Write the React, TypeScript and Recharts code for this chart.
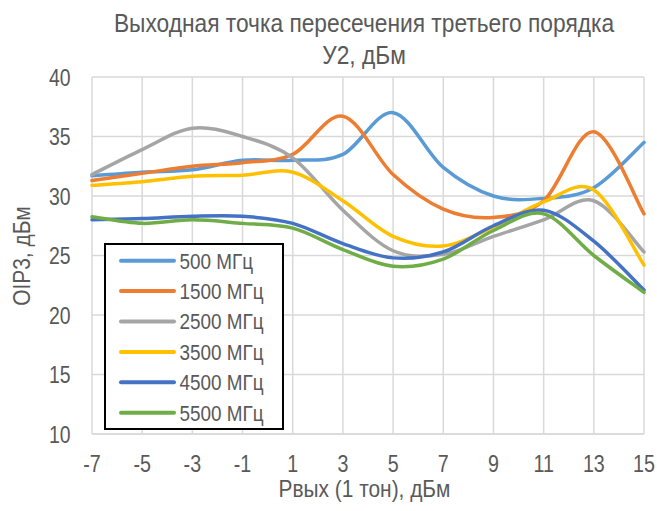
import React from 'react';
import { LineChart, Line, XAxis, YAxis, CartesianGrid, Legend, Label } from 'recharts';

const xValues = [-7, -5, -3, -1, 1, 3, 5, 7, 9, 11, 13, 15];
const f500 = [31.7, 32.0, 32.2, 33.0, 33.0, 33.5, 37.0, 32.4, 30.0, 29.8, 30.7, 34.5];
const f1500 = [31.3, 31.9, 32.5, 32.8, 33.5, 36.7, 31.8, 28.9, 28.2, 29.6, 35.4, 28.5];
const f2500 = [31.8, 33.9, 35.7, 35.0, 33.2, 28.8, 25.4, 25.1, 26.6, 28.0, 29.6, 25.3];
const f3500 = [30.9, 31.2, 31.65, 31.75, 32.0, 29.6, 26.6, 25.8, 27.4, 29.5, 30.5, 24.2];
const f4500 = [28.0, 28.1, 28.3, 28.3, 27.7, 26.0, 24.8, 25.3, 27.5, 28.8, 26.2, 22.1];
const f5500 = [28.25, 27.7, 28.0, 27.7, 27.3, 25.5, 24.1, 24.7, 27.1, 28.5, 25.0, 21.9];

const seriesNames = ['500 МГц', '1500 МГц', '2500 МГц', '3500 МГц', '4500 МГц', '5500 МГц'];
const seriesKeys = ['f500', 'f1500', 'f2500', 'f3500', 'f4500', 'f5500'];
const seriesColors = ['#5B9BD5', '#ED7D31', '#A5A5A5', '#FFC000', '#4472C4', '#70AD47'];
const xTicks = [-7, -5, -3, -1, 1, 3, 5, 7, 9, 11, 13, 15];
const yTicks = [10, 15, 20, 25, 30, 35, 40];

const titleLine1 = 'Выходная точка пересечения третьего порядка';
const titleLine2 = 'У2, дБм';
const xTitle = 'Рвых (1 тон), дБм';
const yTitle = 'OIP3, дБм';

const data = xValues.map((x, i) => ({
  x,
  f500: f500[i],
  f1500: f1500[i],
  f2500: f2500[i],
  f3500: f3500[i],
  f4500: f4500[i],
  f5500: f5500[i],
}));

const FONT = '"Liberation Sans", Arial, sans-serif';
const TEXT = '#595959';

// Excel-like smoothing (Catmull-Rom style Bezier handles = 1/6 of neighbour difference)
function excelCurve(context: any) {
  let pts: number[][] = [];
  return {
    areaStart() {},
    areaEnd() {},
    lineStart() {
      pts = [];
    },
    lineEnd() {
      const n = pts.length;
      if (n === 0) return;
      context.moveTo(pts[0][0], pts[0][1]);
      if (n === 1) return;
      for (let i = 0; i < n - 1; i++) {
        const p0 = pts[i - 1] || pts[i];
        const p1 = pts[i];
        const p2 = pts[i + 1];
        const p3 = pts[i + 2] || pts[i + 1];
        const c1x = p1[0] + (p2[0] - p0[0]) / 6;
        const c1y = p1[1] + (p2[1] - p0[1]) / 6;
        const c2x = p2[0] - (p3[0] - p1[0]) / 6;
        const c2y = p2[1] - (p3[1] - p1[1]) / 6;
        context.bezierCurveTo(c1x, c1y, c2x, c2y, p2[0], p2[1]);
      }
    },
    point(x: number, y: number) {
      pts.push([+x, +y]);
    },
  };
}

const XTick = (props: any) => {
  const { x, y, payload } = props;
  return (
    <text
      transform={`translate(${x},${y + 37.5}) scale(0.82,1)`}
      textAnchor="middle"
      fill={TEXT}
      fontSize={24}
      fontFamily={FONT}
    >
      {payload.value}
    </text>
  );
};

const YTick = (props: any) => {
  const { x, y, payload } = props;
  return (
    <text
      transform={`translate(${x - 21.5},${y + 8.6}) scale(0.81,1)`}
      textAnchor="end"
      fill={TEXT}
      fontSize={24}
      fontFamily={FONT}
    >
      {payload.value}
    </text>
  );
};

const renderLegend = () => (
  <svg width={180} height={187} style={{ display: 'block' }}>
    <rect x={1} y={1} width={178} height={185} fill="#fff" stroke="#000" strokeWidth={2} />
    {seriesNames.map((name, i) => {
      const cy = 17.7 + 30.4 * i;
      return (
        <g key={name}>
          <line x1={17} y1={cy} x2={70} y2={cy} stroke={seriesColors[i]} strokeWidth={4} strokeLinecap="round" />
          <text
            transform={`translate(75.5,${cy + 7.9}) scale(0.86,1)`}
            fill={TEXT}
            fontSize={22}
            fontFamily={FONT}
          >
            {name}
          </text>
        </g>
      );
    })}
  </svg>
);

export default function App() {
  return (
    <div style={{ position: 'absolute', left: 0, top: 0, width: 657, height: 511, background: '#fff' }}>
      <div
        style={{
          position: 'absolute',
          left: 64,
          top: 7.3,
          width: 600,
          textAlign: 'center',
          fontFamily: FONT,
          fontSize: 25,
          lineHeight: '32px',
          color: TEXT,
          zIndex: 2,
          transform: 'scaleX(0.91)',
          transformOrigin: '300px 0',
          whiteSpace: 'nowrap',
        }}
      >
        <div>{titleLine1}</div>
        <div>{titleLine2}</div>
      </div>
      <LineChart
        width={657}
        height={511}
        data={data}
        margin={{ top: 77, right: 13, left: 0, bottom: 0 }}
      >
        <CartesianGrid stroke="#D9D9D9" strokeWidth={1.5} />
        <XAxis
          dataKey="x"
          type="number"
          domain={[-7, 15]}
          ticks={xTicks}
          interval={0}
          height={77}
          tickLine={false}
          axisLine={{ stroke: '#D9D9D9', strokeWidth: 1.5 }}
          tickSize={0}
          tickMargin={0}
          tick={<XTick />}
        >
          <Label
            content={() => (
              <text
                transform="translate(364.5,496.5) scale(0.87,1)"
                textAnchor="middle"
                fill={TEXT}
                fontSize={24}
                fontFamily={FONT}
              >
                {xTitle}
              </text>
            )}
          />
        </XAxis>
        <YAxis
          type="number"
          domain={[10, 40]}
          ticks={yTicks}
          interval={0}
          width={92}
          tickLine={false}
          axisLine={false}
          tickSize={0}
          tickMargin={0}
          tick={<YTick />}
        >
          <Label
            content={() => (
              <text
                transform="translate(30,256) rotate(-90) scale(0.87,1)"
                textAnchor="middle"
                fill={TEXT}
                fontSize={24}
                fontFamily={FONT}
              >
                {yTitle}
              </text>
            )}
          />
        </YAxis>
        <Legend
          layout="vertical"
          align="center"
          verticalAlign="middle"
          content={renderLegend}
          wrapperStyle={{ position: 'absolute', left: 103.5, top: 242.5, width: 180, height: 187 }}
        />
        {seriesKeys.map((k, i) => (
          <Line
            key={k}
            dataKey={k}
            name={seriesNames[i]}
            type={excelCurve as any}
            stroke={seriesColors[i]}
            strokeWidth={3.5}
            strokeLinecap="round"
            dot={false}
            activeDot={false}
            isAnimationActive={false}
          />
        ))}
      </LineChart>
    </div>
  );
}
